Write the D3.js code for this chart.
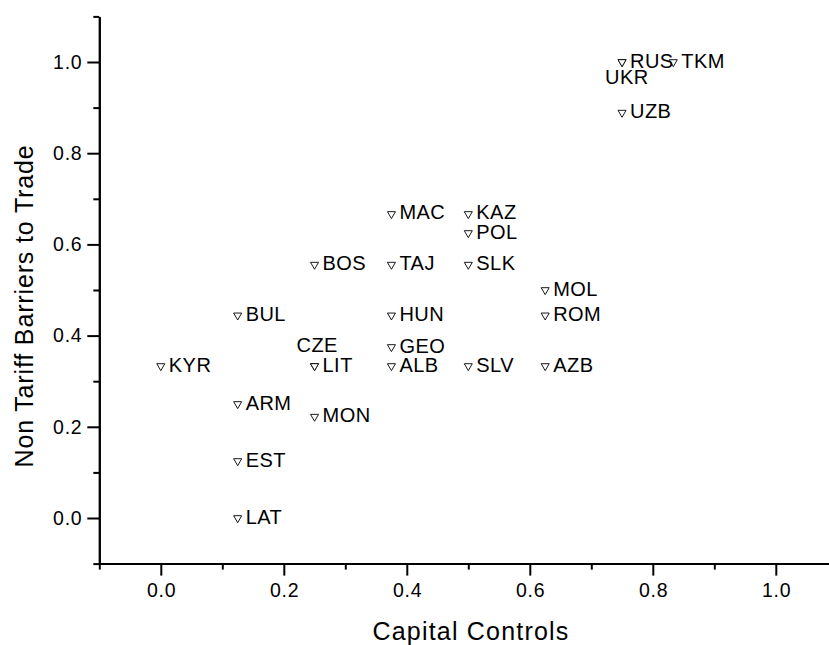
<!DOCTYPE html>
<html>
<head>
<meta charset="utf-8">
<script src="https://cdn.jsdelivr.net/npm/d3@7"></script>
<style>
  html, body { margin: 0; padding: 0; background: #fff; }
  svg { display: block; font-family: "Liberation Sans", Arial, Helvetica, sans-serif; }
</style>
</head>
<body>
<svg id="chart" width="829" height="645"></svg>
<script>
// ---- data ----
const countries = ["KYR","BUL","ARM","EST","LAT","BOS","CZE","LIT","MON","MAC","TAJ","HUN","GEO","ALB","KAZ","POL","SLK","SLV","MOL","ROM","AZB","RUS","UKR","UZB","TKM"];
const capitalControls = [0, 0.125, 0.125, 0.125, 0.125, 0.25, 0.25, 0.25, 0.25, 0.375, 0.375, 0.375, 0.375, 0.375, 0.5, 0.5, 0.5, 0.5, 0.625, 0.625, 0.625, 0.75, 0.75, 0.75, 0.8333];
const nonTariffBarriers = [0.3333, 0.4444, 0.25, 0.125, 0, 0.5556, 0.3333, 0.3333, 0.2222, 0.6667, 0.5556, 0.4444, 0.375, 0.3333, 0.6667, 0.625, 0.5556, 0.3333, 0.5, 0.4444, 0.3333, 1.0, 1.0, 0.8889, 1.0];
const xMajorTicks = [0, 0.2, 0.4, 0.6, 0.8, 1.0];
const xMinorTicks = [-0.1, 0.1, 0.3, 0.5, 0.7, 0.9, 1.1];
const yMajorTicks = [0, 0.2, 0.4, 0.6, 0.8, 1.0];
const yMinorTicks = [-0.1, 0.1, 0.3, 0.5, 0.7, 0.9, 1.1];
const xTitle = "Capital Controls";
const yTitle = "Non Tariff Barriers to Trade";

// ---- layout ----
const svg = d3.select("#chart");
const x = d3.scaleLinear().domain([-0.1, 1.1]).range([99.3, 837.3]);
const y = d3.scaleLinear().domain([-0.1, 1.1]).range([563.6, 16.4]);
const fmt = d3.format(".1f");
const FONT = "'Liberation Sans', Arial, Helvetica, sans-serif";

// label nudges for overlapping points (layout only)
const labelNudge = { UKR: [-17, 22], CZE: [-18, -14] };

function styleAxis(g) {
  g.select(".domain").attr("stroke", "#000").attr("stroke-width", 2);
  g.selectAll(".tick line").attr("stroke", "#000").attr("stroke-width", 2);
  g.selectAll(".tick text").attr("fill", "#000").attr("font-size", 19.5)
    .attr("letter-spacing", "0.7px")
    .attr("font-family", FONT);
}

// x axis
svg.append("g").attr("transform", `translate(0,${y(-0.1)})`)
  .call(d3.axisBottom(x).tickValues(xMinorTicks).tickSize(6).tickFormat("").tickSizeOuter(0))
  .call(styleAxis);
svg.append("g").attr("transform", `translate(0,${y(-0.1)})`)
  .call(d3.axisBottom(x).tickValues(xMajorTicks).tickSize(12).tickPadding(8).tickFormat(fmt).tickSizeOuter(0))
  .call(styleAxis)
  .call(g => g.selectAll(".tick text").attr("dx", "0.35px"));

// y axis
svg.append("g").attr("transform", `translate(${x(-0.1)},0)`)
  .call(d3.axisLeft(y).tickValues(yMinorTicks).tickSize(6).tickFormat("").tickSizeOuter(0))
  .call(styleAxis);
svg.append("g").attr("transform", `translate(${x(-0.1)},0)`)
  .call(d3.axisLeft(y).tickValues(yMajorTicks).tickSize(12).tickPadding(5).tickFormat(fmt).tickSizeOuter(0))
  .call(styleAxis);

// titles
svg.append("text")
  .attr("x", 471).attr("y", 640)
  .attr("text-anchor", "middle").attr("font-size", 25).attr("letter-spacing", "1.2px").attr("fill", "#000")
  .text(xTitle);
svg.append("text")
  .attr("transform", `translate(33,306) rotate(-90)`)
  .attr("text-anchor", "middle").attr("font-size", 25).attr("letter-spacing", "0.85px").attr("fill", "#000")
  .text(yTitle);

// points
const pts = countries.map((c, i) => ({ name: c, cx: capitalControls[i], ntb: nonTariffBarriers[i] }));
const tri = d3.symbol().type(d3.symbolTriangle).size(28);

const g = svg.append("g");
g.selectAll("path.pt").data(pts).join("path")
  .attr("class", "pt")
  .attr("d", tri)
  .attr("transform", d => `translate(${x(d.cx)},${y(d.ntb)}) rotate(180)`)
  .attr("fill", "#fff").attr("stroke", "#000").attr("stroke-width", 0.9);

g.selectAll("text.lbl").data(pts).join("text")
  .attr("class", "lbl")
  .attr("x", d => x(d.cx) + (labelNudge[d.name] ? labelNudge[d.name][0] : 8))
  .attr("y", d => y(d.ntb) + (labelNudge[d.name] ? labelNudge[d.name][1] : 5.5))
  .attr("font-size", 20).attr("letter-spacing", "0.45px").attr("fill", "#000")
  .text(d => d.name);
</script>
</body>
</html>
